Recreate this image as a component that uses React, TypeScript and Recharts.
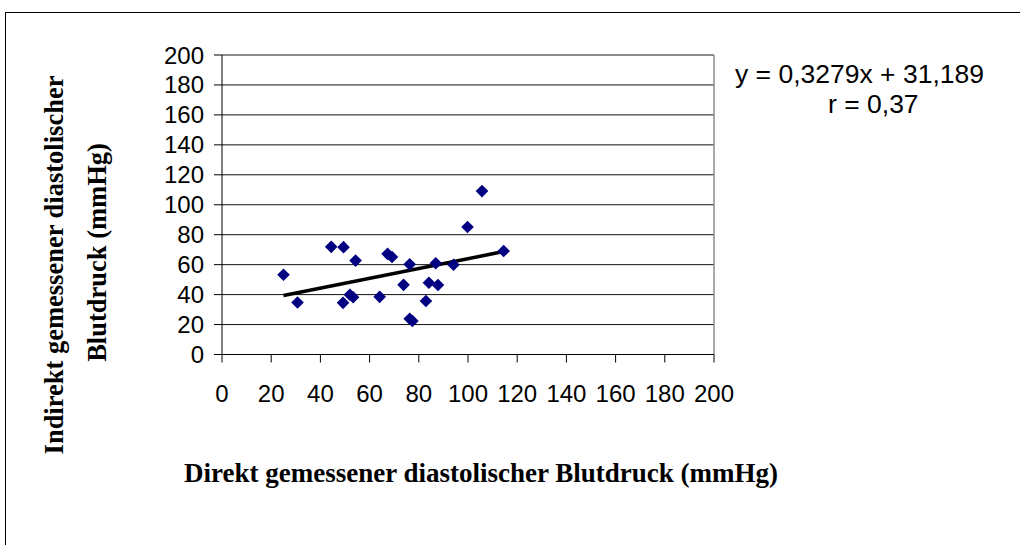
import React from "react";
import {
  ScatterChart,
  Scatter,
  XAxis,
  YAxis,
  CartesianGrid,
  ReferenceLine,
} from "recharts";

// Direkt (x) vs. indirekt (y) gemessener diastolischer Blutdruck (mmHg)
const xValues = [25.0, 30.7, 44.4, 49.4, 54.3, 49.2, 52.0, 53.3, 64.1, 67.3, 69.1, 73.8, 76.3, 76.3, 77.4, 82.9, 84.1, 86.9, 87.8, 94.1, 99.8, 105.7, 114.5];
const yValues = [53.3, 34.7, 71.9, 71.7, 62.7, 34.5, 39.9, 38.2, 38.5, 67.2, 65.1, 46.5, 60.2, 23.9, 22.4, 35.7, 47.9, 60.9, 46.4, 59.9, 85.1, 109.1, 69.1];

const xTicks = [0, 20, 40, 60, 80, 100, 120, 140, 160, 180, 200];
const yTicks = [0, 20, 40, 60, 80, 100, 120, 140, 160, 180, 200];

const slope = 0.3279;
const intercept = 31.189;
const equationText = "y = 0,3279x + 31,189";
const rText = "r = 0,37";

const xTitle = "Direkt gemessener diastolischer Blutdruck (mmHg)";
const yTitle1 = "Indirekt gemessener diastolischer";
const yTitle2 = "Blutdruck (mmHg)";

const points = xValues.map((x, i) => ({ x, y: yValues[i] }));
const xMin = Math.min(...xValues);
const xMax = Math.max(...xValues);
const trendSegment = [
  { x: xMin, y: slope * xMin + intercept },
  { x: xMax, y: slope * xMax + intercept },
];

const SANS = "'Liberation Sans', Arial, sans-serif";
const SERIF = "'Liberation Serif', 'Times New Roman', serif";

const Diamond = (props: any) => {
  const { cx, cy } = props;
  if (cx == null || cy == null) return null;
  const r = 6.3;
  return (
    <polygon
      points={`${cx},${cy - r} ${cx + r},${cy} ${cx},${cy + r} ${cx - r},${cy}`}
      fill="#000080"
    />
  );
};

const XTitle = () => (
  <text
    x={481}
    y={482}
    textAnchor="middle"
    fontFamily={SERIF}
    fontWeight="bold"
    fontSize={27}
    fill="#000"
  >
    {xTitle}
  </text>
);

const YTitle = () => (
  <g>
    <text
      transform="translate(63,265) rotate(-90)"
      textAnchor="middle"
      fontFamily={SERIF}
      fontWeight="bold"
      fontSize={26.5}
      fill="#000"
    >
      {yTitle1}
    </text>
    <text
      transform="translate(106,252.5) rotate(-90)"
      textAnchor="middle"
      fontFamily={SERIF}
      fontWeight="bold"
      fontSize={26.5}
      fill="#000"
    >
      {yTitle2}
    </text>
  </g>
);

export default function App() {
  return (
    <div
      style={{
        position: "relative",
        width: 1020,
        height: 545,
        overflow: "hidden",
        background: "#fff",
      }}
    >
      <style>{"body{margin:0}"}</style>
      <div
        style={{
          position: "absolute",
          left: 5,
          top: 12,
          width: 1100,
          height: 700,
          border: "1px solid #000",
          boxSizing: "border-box",
        }}
      />
      <div style={{ position: "absolute", left: 0, top: 0 }}>
        <ScatterChart
          width={1020}
          height={545}
          margin={{ top: 55, right: 306, bottom: 140.5, left: 162 }}
        >
          <CartesianGrid vertical={false} stroke="#111" strokeWidth={1} />
          <XAxis
            type="number"
            dataKey="x"
            domain={[0, 200]}
            ticks={xTicks}
            interval={0}
            height={50}
            tickSize={8}
            tickMargin={22}
            axisLine={{ stroke: "#000" }}
            tickLine={{ stroke: "#000" }}
            tick={{ fontSize: 24, fill: "#000", fontFamily: SANS }}
            label={{ content: () => <XTitle /> }}
          />
          <YAxis
            type="number"
            dataKey="y"
            domain={[0, 200]}
            ticks={yTicks}
            interval={0}
            width={60}
            tickSize={8}
            tickMargin={10}
            axisLine={{ stroke: "#000" }}
            tickLine={{ stroke: "#000" }}
            tick={{ fontSize: 24, fill: "#000", fontFamily: SANS }}
            label={{ content: () => <YTitle /> }}
          />
          <ReferenceLine y={200} stroke="#8c8c8c" strokeWidth={1.5} />
          <ReferenceLine x={200} stroke="#8c8c8c" strokeWidth={1.5} />
          <Scatter
            data={points}
            shape={Diamond}
            isAnimationActive={false}
          />
          <ReferenceLine
            segment={trendSegment}
            stroke="#000"
            strokeWidth={3.5}
          />
        </ScatterChart>
      </div>
      <div
        style={{
          position: "absolute",
          left: 735,
          top: 61,
          fontFamily: SANS,
          fontSize: 26.5,
          lineHeight: "26px",
          whiteSpace: "nowrap",
          color: "#000",
        }}
      >
        {equationText}
      </div>
      <div
        style={{
          position: "absolute",
          left: 828,
          top: 91,
          fontFamily: SANS,
          fontSize: 26.5,
          lineHeight: "26px",
          whiteSpace: "nowrap",
          color: "#000",
        }}
      >
        {rText}
      </div>
    </div>
  );
}
